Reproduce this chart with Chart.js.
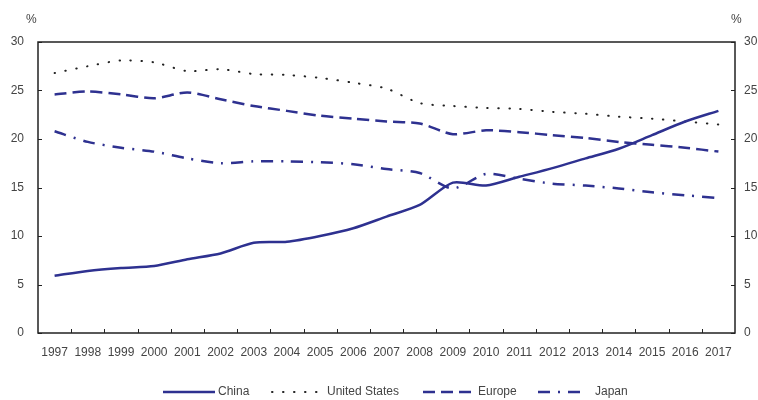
<!DOCTYPE html>
<html>
<head>
<meta charset="utf-8">
<script src="https://cdn.jsdelivr.net/npm/chart.js@4"></script>
<style>
  html, body { margin: 0; padding: 0; background: #fff; }
  #wrap { width: 758px; height: 400px; }
</style>
</head>
<body>
<div id="wrap"><canvas id="chart"></canvas></div>
<script>
const years = ['1997','1998','1999','2000','2001','2002','2003','2004','2005','2006','2007',
               '2008','2009','2010','2011','2012','2013','2014','2015','2016','2017'];
const china = [5.9, 6.4, 6.7, 6.9, 7.6, 8.2, 9.3, 9.4, 10.0, 10.8, 12.0,
               13.2, 15.5, 15.2, 16.1, 17.0, 18.0, 19.0, 20.4, 21.8, 22.9];
const unitedStates = [26.8, 27.5, 28.1, 27.9, 27.0, 27.2, 26.7, 26.6, 26.3, 25.8, 25.2,
                      23.7, 23.4, 23.2, 23.1, 22.8, 22.6, 22.3, 22.1, 21.8, 21.5];
const europe = [24.6, 24.9, 24.6, 24.2, 24.8, 24.1, 23.4, 22.9, 22.4, 22.1, 21.8,
                21.6, 20.5, 20.9, 20.7, 20.4, 20.1, 19.7, 19.4, 19.1, 18.7];
const japan = [20.8, 19.7, 19.1, 18.7, 18.0, 17.5, 17.7, 17.7, 17.6, 17.4, 16.9,
               16.5, 14.9, 16.4, 15.9, 15.4, 15.2, 14.9, 14.5, 14.2, 13.9];
const yTicks = [0, 5, 10, 15, 20, 25, 30];

const navy = '#2e3190';
const textColor = '#444';
const font = { family: '"Liberation Sans", Arial, sans-serif', size: 12 };

// frame, inward tick marks, % labels and legend
const decor = {
    id: 'decor',
    afterDraw(chart) {
        const ctx = chart.ctx;
        const a = chart.chartArea;
        const x = chart.scales.x, y = chart.scales.y;
        ctx.save();
        ctx.strokeStyle = '#222';
        ctx.lineWidth = 1.5;
        ctx.strokeRect(a.left, a.top, a.right - a.left, a.bottom - a.top);
        ctx.lineWidth = 1;
        ctx.beginPath();
        for (let i = 0; i < years.length - 1; i++) {
            const px = Math.round((x.getPixelForValue(i) + x.getPixelForValue(i + 1)) / 2) + 0.5;
            ctx.moveTo(px, a.bottom);
            ctx.lineTo(px, a.bottom - 4);
        }
        yTicks.forEach(v => {
            const py = Math.round(y.getPixelForValue(v)) + 0.5;
            ctx.moveTo(a.left, py); ctx.lineTo(a.left + 4, py);
            ctx.moveTo(a.right, py); ctx.lineTo(a.right - 4, py);
        });
        ctx.stroke();

        ctx.fillStyle = textColor;
        ctx.font = '12px "Liberation Sans", Arial, sans-serif';
        ctx.textBaseline = 'middle';
        ctx.textAlign = 'left';
        ctx.fillText('%', 26, 20);
        ctx.fillText('%', 731, 20);

        // legend
        const ly = 392;
        const lx = [163, 272, 423, 538], lw = [52, 51, 52, 44], tx = [218, 327, 478, 595];
        chart.data.datasets.forEach((ds, i) => {
            ctx.beginPath();
            ctx.strokeStyle = ds.borderColor;
            ctx.lineWidth = ds.borderWidth;
            ctx.lineCap = ds.borderCapStyle || 'butt';
            ctx.setLineDash(ds.borderDash || []);
            ctx.moveTo(lx[i], ly);
            ctx.lineTo(lx[i] + lw[i], ly);
            ctx.stroke();
            ctx.setLineDash([]);
            ctx.fillText(ds.label, tx[i], ly);
        });
        ctx.restore();
    }
};

new Chart(document.getElementById('chart'), {
    type: 'line',
    data: {
        labels: years,
        datasets: [
            { label: 'China', data: china, borderColor: navy, borderWidth: 2.5 },
            { label: 'United States', data: unitedStates, borderColor: '#222', borderWidth: 2,
              borderDash: [0.5, 10.5], borderCapStyle: 'round' },
            { label: 'Europe', data: europe, borderColor: navy, borderWidth: 2.5, borderDash: [12, 6] },
            { label: 'Japan', data: japan, borderColor: navy, borderWidth: 2.5, borderDash: [12, 8, 2, 8] }
        ]
    },
    options: {
        responsive: true,
        maintainAspectRatio: false,
        animation: false,
        devicePixelRatio: 1,
        layout: { padding: { top: 42, left: 0, right: 0, bottom: 0 } },
        elements: { point: { radius: 0 }, line: { tension: 0.25, fill: false } },
        plugins: { legend: { display: false }, tooltip: { enabled: false } },
        scales: {
            x: {
                offset: true,
                grid: { display: false, drawTicks: false },
                border: { display: false },
                ticks: { color: textColor, font: font, padding: 12, maxRotation: 0, autoSkip: false },
                afterFit(s) { s.height = 67; }
            },
            y: {
                position: 'left',
                min: 0, max: 30,
                afterBuildTicks(s) { s.ticks = yTicks.map(v => ({ value: v })); },
                grid: { display: false, drawTicks: false },
                border: { display: false },
                ticks: { color: textColor, font: font, padding: 14 },
                afterFit(s) { s.width = 38; }
            },
            y2: {
                position: 'right',
                min: 0, max: 30,
                afterBuildTicks(s) { s.ticks = yTicks.map(v => ({ value: v })); },
                grid: { display: false, drawTicks: false },
                border: { display: false },
                ticks: { color: textColor, font: font, padding: 9 },
                afterFit(s) { s.width = 23; }
            }
        }
    },
    plugins: [decor]
});
</script>
</body>
</html>
